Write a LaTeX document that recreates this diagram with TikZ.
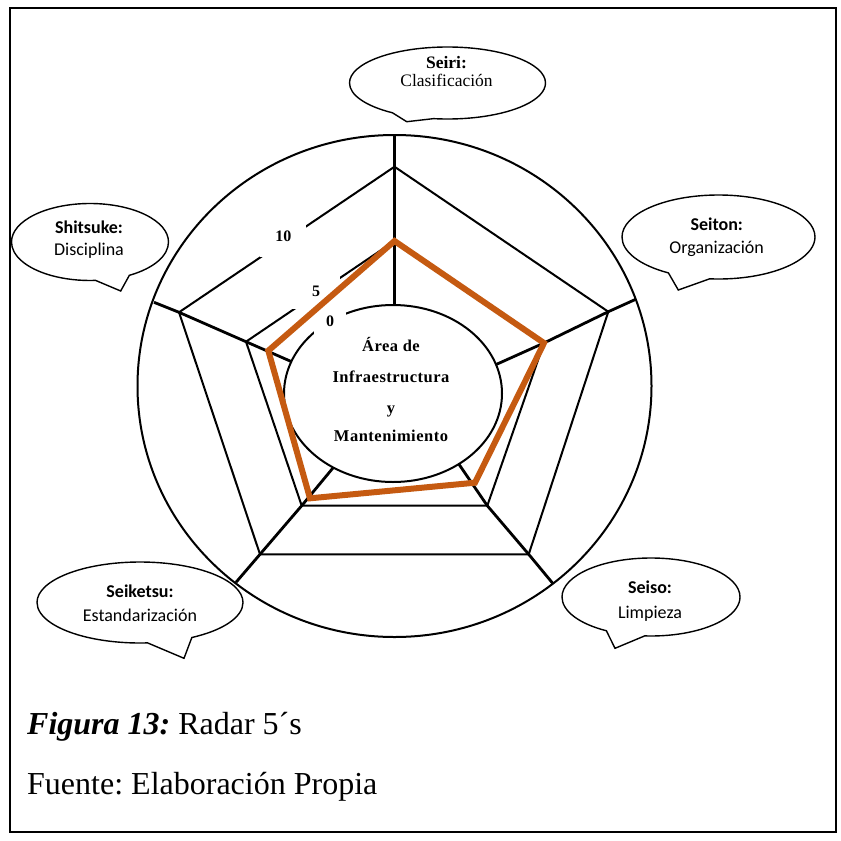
\documentclass[tikz,border=0pt]{standalone}
\usepackage{fontspec}
\setmainfont{Liberation Serif}
\newfontfamily\calloutsans{Carlito}
\newfontfamily\hubfont[LetterSpace=3]{Liberation Serif}
\usetikzlibrary{shapes.callouts,shapes.geometric}
\definecolor{radarorange}{RGB}{197,90,17}
\frenchspacing

\begin{document}
\begin{tikzpicture}[x=1pt,y=-1pt,
  frame/.style={line width=2pt},
  rim/.style={line width=2pt},
  spoke/.style={line width=2.8pt, line join=miter},
  ring/.style={line width=2pt, line join=miter},
  score/.style={line width=6pt, line join=miter, draw=radarorange},
  tick/.style={font=\bfseries\fontsize{16}{16}\selectfont, fill=white, inner sep=0pt},
  hub/.style={font=\hubfont\bfseries\fontsize{16.5}{16.5}\selectfont, anchor=base, inner sep=0pt},
  bubble/.style={ellipse callout, draw, line width=1.4pt, fill=white, inner sep=0pt,
                 callout pointer arc=26},
  serifhead/.style={font=\bfseries\fontsize{17.5}{17.5}\selectfont, anchor=base, inner sep=0pt},
  seriftext/.style={font=\fontsize{17.5}{17.5}\selectfont, anchor=base, inner sep=0pt},
  sanshead/.style={font=\calloutsans\bfseries\fontsize{18}{18}\selectfont, anchor=base, inner sep=0pt},
  sanstext/.style={font=\calloutsans\fontsize{18}{18}\selectfont, anchor=base, inner sep=0pt},
  caption/.style={font=\fontsize{32}{32}\selectfont, anchor=base west, inner sep=0pt}
]
\useasboundingbox (0,0) rectangle (841,841);

% page frame
\draw[frame] (10,8) rectangle (836,832);

% outer rim
\draw[rim] (394.5,386) ellipse [x radius=257, y radius=251];

% radar geometry
\coordinate (tE) at (394.5,135);   \coordinate (tO) at (394.5,166.7); \coordinate (tM) at (394.5,241);   \coordinate (tI) at (394.5,320);
\coordinate (rE) at (635.7,299.3); \coordinate (rO) at (608.3,311.7); \coordinate (rM) at (544,343);     \coordinate (rI) at (485.2,369.4);
\coordinate (brE) at (553.3,584);  \coordinate (brO) at (528.7,554.3);\coordinate (brM) at (487.3,505.7);\coordinate (brI) at (452.5,454.8);
\coordinate (blE) at (236,582.3);  \coordinate (blO) at (260,554.3);  \coordinate (blM) at (301.7,505.7);\coordinate (blI) at (338.9,460.8);
\coordinate (lE) at (154,302.3);   \coordinate (lO) at (179,312.3);   \coordinate (lM) at (246,341.7);   \coordinate (lI) at (300.8,365.7);

% spokes
\draw[spoke] (tE) -- (tO) -- (tM) -- (tI);
\draw[spoke] (rE) -- (rO) -- (rM) -- (rI);
\draw[spoke] (brE) -- (brO) -- (brM) -- (brI);
\draw[spoke] (blE) -- (blO) -- (blM) -- (blI);
\draw[spoke] (lE) -- (lO) -- (lM) -- (lI);

% level rings 10 and 5
\draw[ring] (tO) -- (rO) -- (brO) -- (blO) -- (lO) -- cycle;
\draw[ring] (tM) -- (rM) -- (brM) -- (blM) -- (lM) -- cycle;

% centre disc
\draw[rim, fill=white] (393,393.5) ellipse [x radius=109, y radius=88.5];

% scale labels
\node[tick, minimum width=46pt, minimum height=40pt] (s10) at (283.3,236.7) {10};
\node[tick, minimum width=48pt, minimum height=34pt] (s5) at (316,291.7) {5};
\node[tick, minimum width=32pt, minimum height=24pt] (s0) at (330,321.7) {0};

% scores
\coordinate (pT) at (394.5,241);
\coordinate (pR) at (544,343);
\coordinate (pBR) at (475,482.7);
\coordinate (pBL) at (310,498.3);
\coordinate (pL) at (268.3,350.7);
\draw[score] (pT) -- (pR) -- (pBR) -- (pBL) -- (pL) -- cycle;

% centre title
\node[hub] (h1) at (391,351.7) {Área de};
\node[hub] (h2) at (391,382.7) {Infraestructura};
\node[hub] (h3) at (391,413) {y};
\node[hub] (h4) at (391,441.7) {Mantenimiento};

% callouts
\node[bubble, minimum width=196pt, minimum height=72pt,
      callout absolute pointer={(406.7,121.7)}] (seiri) at (447.5,83) {};
\node[serifhead] (seiriA) at (446.5,68.3) {Seiri:};
\node[seriftext] (seiriB) at (446.5,86.7) {Clasificación};

\node[bubble, minimum width=157pt, minimum height=77pt,
      callout absolute pointer={(120.7,291)}] (shitsuke) at (90,242) {};
\node[sanshead] (shitsukeA) at (89,233.3) {Shitsuke:};
\node[sanstext] (shitsukeB) at (89,255) {Disciplina};

\node[bubble, minimum width=193pt, minimum height=84pt,
      callout absolute pointer={(678.3,290)}] (seiton) at (718.5,237) {};
\node[sanshead] (seitonA) at (716.7,230) {Seiton:};
\node[sanstext] (seitonB) at (716.7,253.3) {Organización};

\node[bubble, minimum width=206pt, minimum height=81pt,
      callout absolute pointer={(184,658.3)}] (seiketsu) at (140,602.5) {};
\node[sanshead] (seiketsuA) at (140,597.7) {Seiketsu:};
\node[sanstext] (seiketsuB) at (140,621.7) {Estandarización};

\node[bubble, minimum width=178pt, minimum height=78pt,
      callout absolute pointer={(615,648.3)}] (seiso) at (651,597) {};
\node[sanshead] (seisoA) at (650,593.3) {Seiso:};
\node[sanstext] (seisoB) at (650,618.3) {Limpieza};

% caption
\node[caption] (cap1) at (27,734) {\textbf{\textit{Figura 13:}} Radar 5´s};
\node[caption] (cap2) at (27,794) {Fuente: Elaboración Propia};
\end{tikzpicture}
\end{document}
